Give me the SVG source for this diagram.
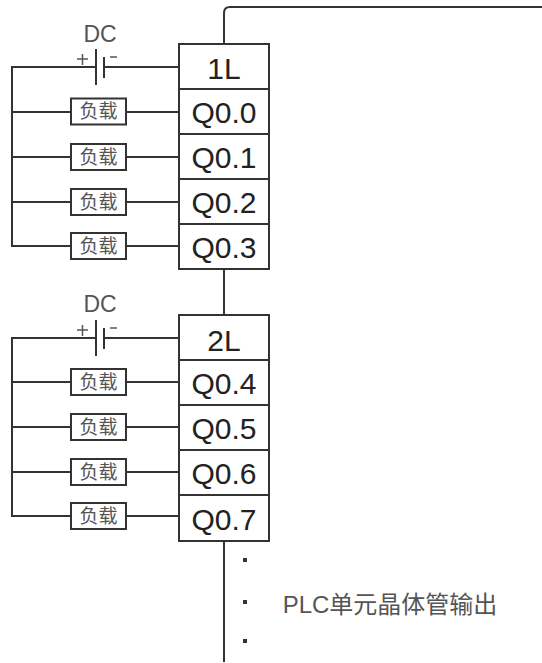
<svg xmlns="http://www.w3.org/2000/svg" width="542" height="663" viewBox="0 0 542 663">
<style>
.w{fill:none;stroke:#333;stroke-width:2}
.b{fill:#fff;stroke:#333;stroke-width:2}
.t{font-family:"Liberation Sans","Noto Sans CJK SC",sans-serif;fill:#333;text-anchor:middle}
.q{font-size:30px;fill:#222}
.l{font-size:19px;fill:#555}
.d{font-size:23px;fill:#555}
</style>
<rect width="542" height="663" fill="#fff"/>
<g id="connectors">
<path class="w" d="M542 7H230Q224 7 224 13V44"/>
<path class="w" d="M224 269V315"/>
<path class="w" d="M224 541V662"/>
<path class="w" d="M179 67H104M96 67H12V246H71M12 112H71M126 112H179M12 157H71M126 157H179M12 202H71M126 202H179M126 246H179"/>
<path class="w" d="M179 338H104M96 338H12V516H71M12 382H71M126 382H179M12 427H71M126 427H179M12 472H71M126 472H179M126 516H179"/>
<path class="w" d="M96 49V85M104 57V78M96 320V356M104 328V349"/>
<path class="w" style="stroke-width:1.5;stroke:#555" d="M77 59H88M82.500 54V65M110 57H117M77 330H88M82.500 325V336M110 328H117"/>
</g>
<g id="dc1"><text class="t d" x="100" y="42">DC</text></g>
<g id="dc2"><text class="t d" x="100" y="312">DC</text></g>
<g id="r1L"><rect class="b" x="179" y="44" width="90" height="45"/><text class="t q" x="224" y="79">1L</text></g>
<g id="rQ00"><rect class="b" x="179" y="89" width="90" height="45"/><text class="t q" x="224" y="123">Q0.0</text></g>
<g id="rQ01"><rect class="b" x="179" y="134" width="90" height="45"/><text class="t q" x="224" y="168">Q0.1</text></g>
<g id="rQ02"><rect class="b" x="179" y="179" width="90" height="45"/><text class="t q" x="224" y="213">Q0.2</text></g>
<g id="rQ03"><rect class="b" x="179" y="224" width="90" height="45"/><text class="t q" x="224" y="258">Q0.3</text></g>
<g id="r2L"><rect class="b" x="179" y="315" width="90" height="45"/><text class="t q" x="224" y="351">2L</text></g>
<g id="rQ04"><rect class="b" x="179" y="360" width="90" height="45"/><text class="t q" x="224" y="394">Q0.4</text></g>
<g id="rQ05"><rect class="b" x="179" y="405" width="90" height="45"/><text class="t q" x="224" y="439">Q0.5</text></g>
<g id="rQ06"><rect class="b" x="179" y="450" width="90" height="45"/><text class="t q" x="224" y="484">Q0.6</text></g>
<g id="rQ07"><rect class="b" x="179" y="495" width="90" height="46"/><text class="t q" x="224" y="530">Q0.7</text></g>
<g id="load0"><rect class="b" x="71" y="98.500" width="55" height="26"/><text class="t l" x="98.500" y="118">负载</text></g>
<g id="load1"><rect class="b" x="71" y="144" width="55" height="26"/><text class="t l" x="98.500" y="163.500">负载</text></g>
<g id="load2"><rect class="b" x="71" y="189" width="55" height="26"/><text class="t l" x="98.500" y="208.500">负载</text></g>
<g id="load3"><rect class="b" x="71" y="233" width="55" height="26"/><text class="t l" x="98.500" y="252.500">负载</text></g>
<g id="load4"><rect class="b" x="71" y="369" width="55" height="26"/><text class="t l" x="98.500" y="388.500">负载</text></g>
<g id="load5"><rect class="b" x="71" y="414" width="55" height="26"/><text class="t l" x="98.500" y="433.500">负载</text></g>
<g id="load6"><rect class="b" x="71" y="459" width="55" height="26"/><text class="t l" x="98.500" y="478.500">负载</text></g>
<g id="load7"><rect class="b" x="71" y="503" width="55" height="26"/><text class="t l" x="98.500" y="522.500">负载</text></g>
<g id="dots" fill="#333"><rect x="243" y="558" width="4" height="4"/><rect x="243" y="600" width="4" height="4"/><rect x="243" y="639" width="4" height="4"/></g>
<g id="caption"><text class="t" x="390" y="613" font-size="24" style="fill:#555">PLC单元晶体管输出</text></g>
</svg>
